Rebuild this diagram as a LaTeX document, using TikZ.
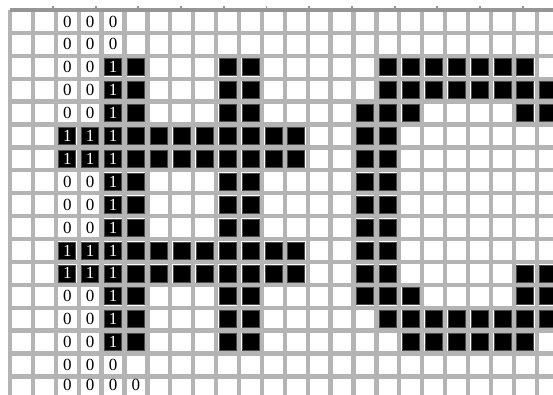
\documentclass[tikz,border=0pt]{standalone}
\usepackage{fontspec}
\setmainfont{Liberation Serif}
\usepackage{xcolor}
\usetikzlibrary{positioning}
\definecolor{gridgrey}{RGB}{180,180,180}
\definecolor{edgegrey}{RGB}{150,150,150}

\begin{document}
\begin{tikzpicture}[
    x=0.687cm, y=-0.687cm,
    gridline/.style={draw=gridgrey, line width=3.6pt},
    pixel/.style={rectangle, minimum size=0.51cm, inner sep=0pt, fill=black, draw=black!70, line width=0.5pt},
    onebit/.style={pixel, text=white, font=\fontsize{14.5}{14.5}\selectfont},
    zerobit/.style={rectangle, inner sep=0pt, font=\fontsize{14.5}{14.5}\selectfont}
]
\useasboundingbox (-0.4367,-0.4367) rectangle (23.712,16.769);

% Grid
\foreach \c in {0,...,23} \draw[gridline] (\c,0) -- (\c,16.9);
\foreach \r in {0,...,16} \draw[gridline] (0,\r) -- (23.9,\r);
\draw[edgegrey, line width=3pt] (0,0) -- (23.9,0);
\foreach \k in {0,...,11} \draw[edgegrey, line width=1.6pt] (1.878+1.865*\k,-0.05) -- ++(0,-0.12);

% Zero bits
\foreach \r in {0,1,15} \foreach \c in {2,3,4}
    \node[zerobit] (z\r-\c) at (\c+0.5,\r+0.5) {0};
\foreach \r in {2,3,4,7,8,9,12,13,14} \foreach \c in {2,3}
    \node[zerobit] (z\r-\c) at (\c+0.5,\r+0.5) {0};
\foreach \c in {2,...,5}
    \node[zerobit] (z16-\c) at (\c+0.5,16.38) {0};

% One bits
\foreach \r in {2,3,4,7,8,9,12,13,14}
    \node[onebit] (o\r-4) at (4.5,\r+0.5) {1};
\foreach \r in {5,6,10,11} \foreach \c in {2,3,4}
    \node[onebit] (o\r-\c) at (\c+0.5,\r+0.5) {1};

% Glyph 1: the cross
\foreach \r in {2,...,14}
    \node[pixel] (p\r-5) at (5.5,\r+0.5) {};
\foreach \r in {2,3,4,7,8,9,12,13,14} \foreach \c in {9,10}
    \node[pixel] (p\r-\c) at (\c+0.5,\r+0.5) {};
\foreach \r in {5,6,10,11} \foreach \c in {6,...,12}
    \node[pixel] (p\r-\c) at (\c+0.5,\r+0.5) {};

% Glyph 2: the C
\foreach \c in {16,...,22}
    \node[pixel] (p2-\c) at (\c+0.5,2.5) {};
\foreach \r in {3,13} \foreach \c in {16,...,23}
    \node[pixel] (p\r-\c) at (\c+0.5,\r+0.5) {};
\foreach \c in {17,...,22}
    \node[pixel] (p14-\c) at (\c+0.5,14.5) {};
\foreach \r in {4,...,12} \foreach \c in {15,16}
    \node[pixel] (p\r-\c) at (\c+0.5,\r+0.5) {};
\foreach \r in {4,11,12} \foreach \c in {22,23}
    \node[pixel] (p\r-\c) at (\c+0.5,\r+0.5) {};
\foreach \r in {4,12}
    \node[pixel] (p\r-17) at (17.5,\r+0.5) {};

\end{tikzpicture}
\end{document}
